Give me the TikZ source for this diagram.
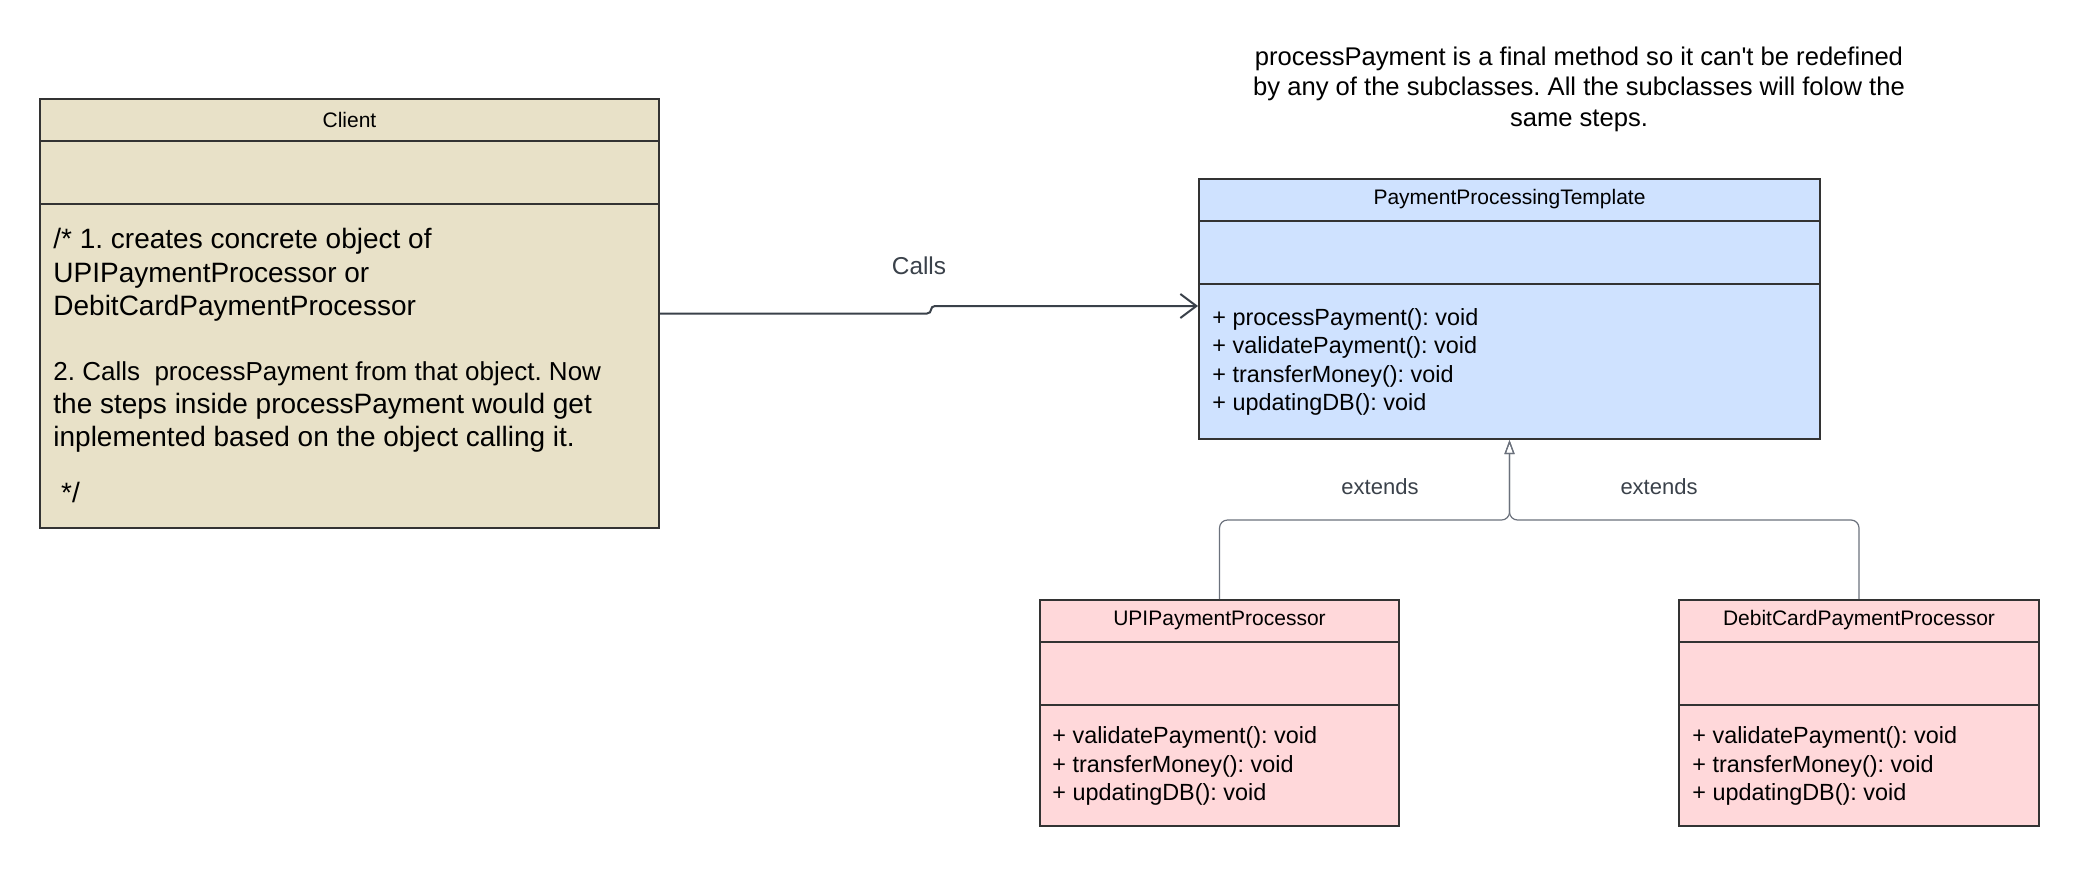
\documentclass[tikz,border=0pt]{standalone}
\usepackage{fontspec}
\setmainfont{Liberation Sans}
\usetikzlibrary{arrows.meta}
\frenchspacing

\begin{document}
\begin{tikzpicture}[x=0.5pt,y=-0.5pt,
  classbox/.style={draw=edge,line width=1pt,inner sep=0pt},
  head/.style={font=\fontsize{10.5}{12}\selectfont},
  ops/.style={anchor=west,align=left,inner sep=0pt,font=\fontsize{11.7}{14.25}\selectfont},
  lbl/.style={text=label,inner sep=0pt},
  calls/.style={draw=label,line width=1pt,-{Straight Barb[length=8pt,width=12pt]}},
  ext/.style={draw=extline,line width=0.6pt,rounded corners=4pt,-{Triangle[open,length=7pt,width=5pt]}}]
\definecolor{edge}{HTML}{333333}
\definecolor{sand}{HTML}{E8E1C8}
\definecolor{sky}{HTML}{CFE2FF}
\definecolor{blush}{HTML}{FFD8DA}
\definecolor{label}{HTML}{3A414A}
\definecolor{extline}{HTML}{6B717C}
\useasboundingbox (0,0) rectangle (2080,868);
% class boxes
\node[classbox,fill=sand,minimum width=309.5pt,minimum height=214.5pt] (client) at (349.5,313.5) {};
\node[classbox,fill=sky,minimum width=310.5pt,minimum height=130pt] (tmpl) at (1509.5,309) {};
\node[classbox,fill=blush,minimum width=179.5pt,minimum height=113pt] (upi) at (1219.5,713) {};
\node[classbox,fill=blush,minimum width=180pt,minimum height=113pt] (debit) at (1859,713) {};
% name and attribute compartments
\foreach \cls/\title in {client/Client,tmpl/PaymentProcessingTemplate,upi/UPIPaymentProcessor,debit/DebitCardPaymentProcessor}
{ \draw[edge,line width=1pt] ([yshift=-21.5pt]\cls.north west) -- ([yshift=-21.5pt]\cls.north east);
  \draw[edge,line width=1pt] ([yshift=-52.75pt]\cls.north west) -- ([yshift=-52.75pt]\cls.north east);
  \node[head] (\cls-title) at ([yshift=-10.75pt]\cls.north) {\title};}
% operations
\node[anchor=west,align=left,inner sep=0pt,font=\fontsize{14}{16.6}\selectfont] (client-ops) at (53,365.5)
  {/* 1. creates concrete object of\\UPIPaymentProcessor or\\DebitCardPaymentProcessor\\[15.85pt]\fontsize{13}{16.6}\selectfont
   2. Calls\ \ processPayment from that object. Now\\the steps inside processPayment would get\\inplemented based on the object calling it.\\[11.25pt]\ */};
\node[ops] (tmpl-ops) at (1212,362) {+ processPayment(): void\\+ validatePayment(): void\\+ transferMoney(): void\\+ updatingDB(): void};
\node[ops] (upi-ops) at (1052,766) {+ validatePayment(): void\\+ transferMoney(): void\\+ updatingDB(): void};
\node[ops] (debit-ops) at (1692,766) {+ validatePayment(): void\\+ transferMoney(): void\\+ updatingDB(): void};
% note
\node[align=center,inner sep=0pt,font=\fontsize{12.8}{15.25}\selectfont] (note) at (1579,89)
  {processPayment is a final method so it can\textquotesingle t be redefined\\by any of the subclasses. All the subclasses will folow the\\same steps.};
% connectors
\draw[calls] (client.east) -- (927,313.5) .. controls (933,313.5) and (929,306) .. (935,306) -- ([yshift=1.5pt]tmpl.west);
\node[lbl,font=\fontsize{12.2}{14}\selectfont] (calls-lbl) at (919,266) {Calls};
\coordinate (join) at (1509.5,520);
\draw[ext] (upi.north) |- (join) -- (tmpl.south);
\draw[ext] (debit.north) |- (join) -- (tmpl.south);
\node[lbl,font=\fontsize{11}{13}\selectfont] (ext-left) at (1380,487) {extends};
\node[lbl,font=\fontsize{11}{13}\selectfont] (ext-right) at (1659,487) {extends};
\end{tikzpicture}
\end{document}
